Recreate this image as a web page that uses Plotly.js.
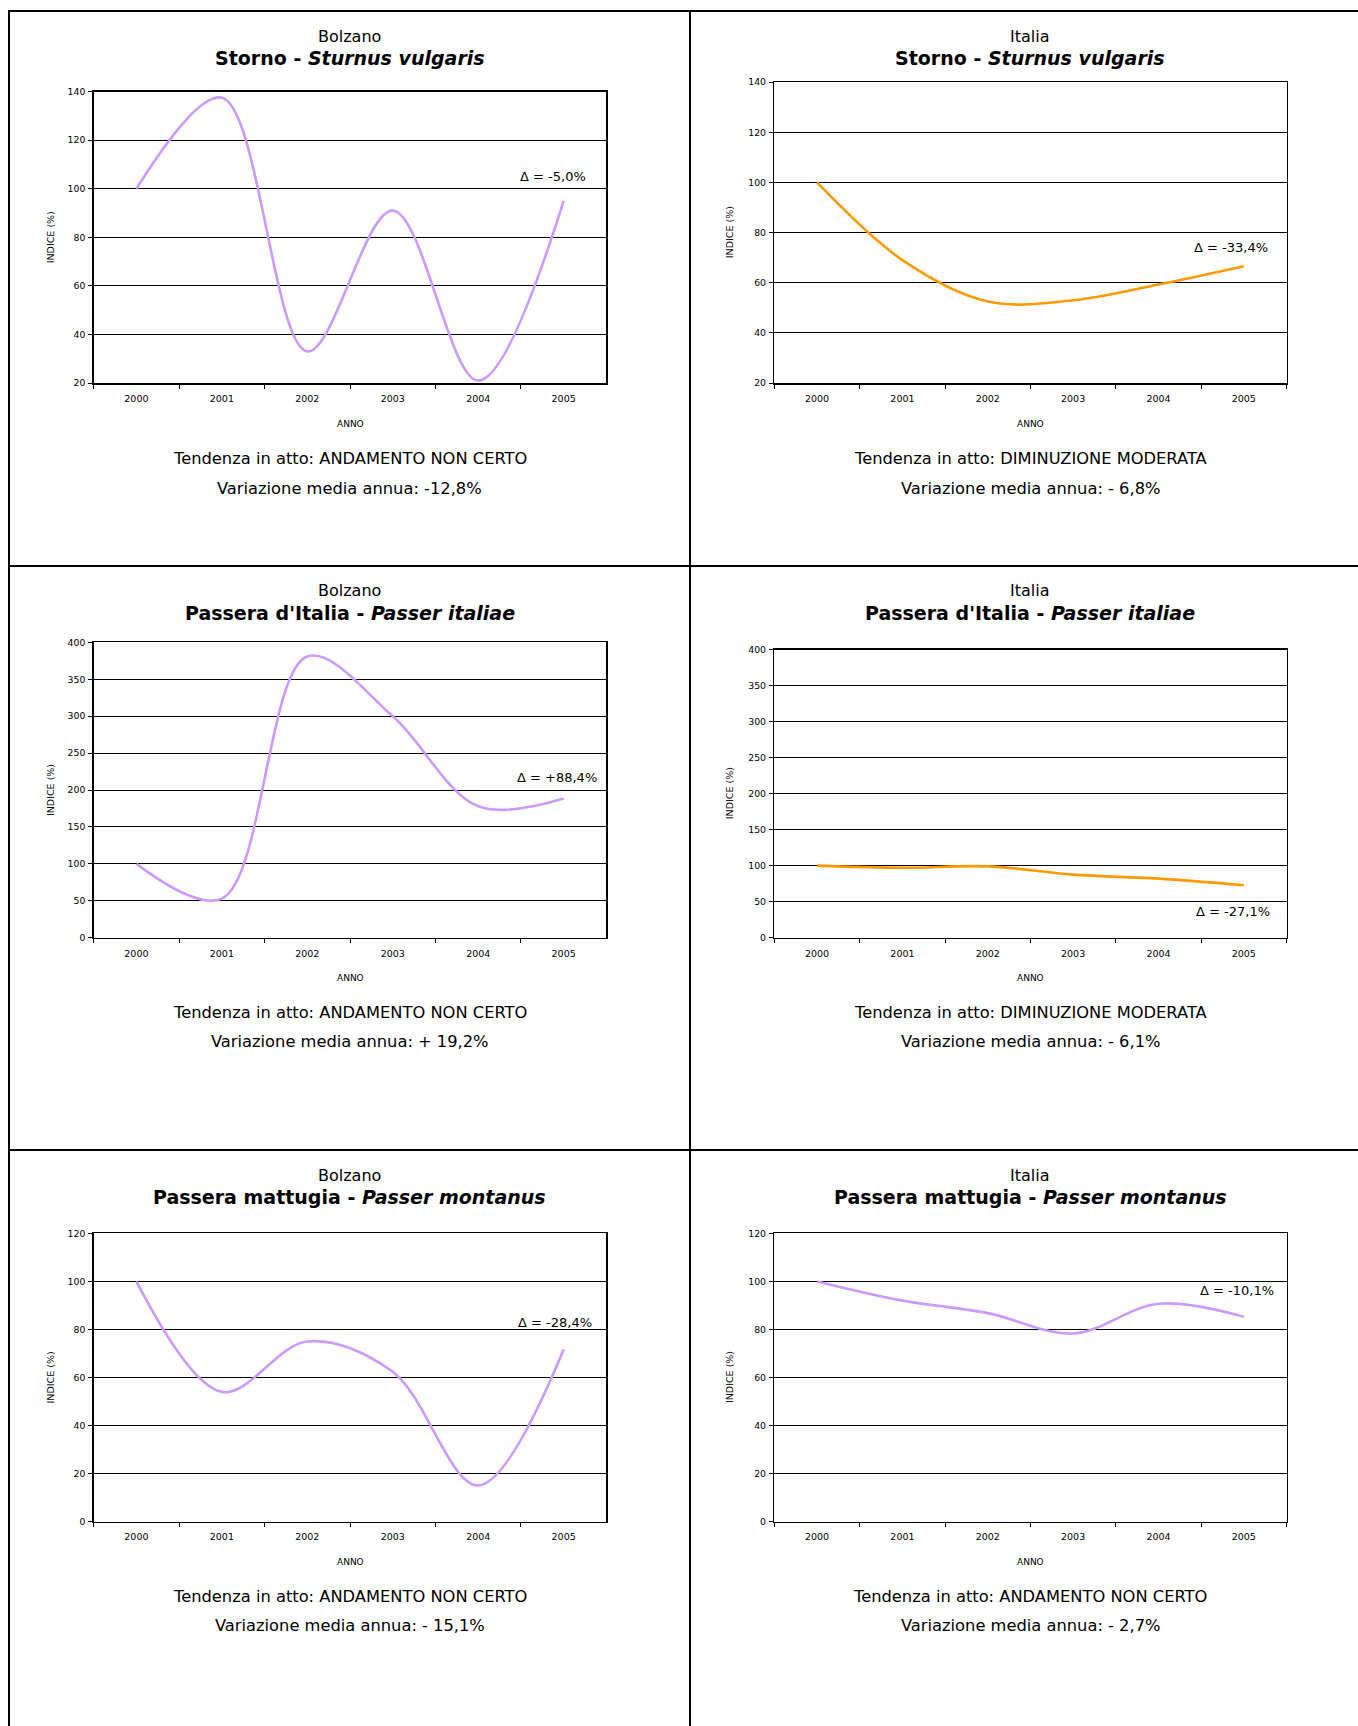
<!DOCTYPE html>
<html>
<head>
<meta charset="utf-8">
<script src="https://cdn.plot.ly/plotly-3.0.1.min.js"></script>
<style>
  html, body { margin: 0; padding: 0; background: #ffffff; overflow: hidden; }
  #chart { width: 1358px; height: 1726px; }
</style>
</head>
<body>
<div id="chart"></div>
<script>
// ---------- DATA ----------
const years = ['2000', '2001', '2002', '2003', '2004', '2005'];

const bolzanoStorno          = [100, 137.5, 33, 91, 21, 95];
const italiaStorno           = [100, 69, 52.5, 53, 59.3, 66.6];
const bolzanoPasseraItalia   = [100, 53, 381, 300, 178, 188.4];
const italiaPasseraItalia    = [100, 97, 99, 87.5, 82, 72.9];
const bolzanoPasseraMattugia = [100, 54, 75, 62.4, 15, 71.6];
const italiaPasseraMattugia  = [100, 92, 86.8, 78.3, 90.7, 85.3];

const places     = ['Bolzano', 'Italia'];
const speciesIt  = ['Storno', "Passera d'Italia", 'Passera mattugia'];
const speciesLat = ['Sturnus vulgaris', 'Passer italiae', 'Passer montanus'];
const deltaLabels = ['Δ = -5,0%', 'Δ = -33,4%', 'Δ = +88,4%', 'Δ = -27,1%', 'Δ = -28,4%', 'Δ = -10,1%'];
const tendenze = ['ANDAMENTO NON CERTO', 'DIMINUZIONE MODERATA', 'ANDAMENTO NON CERTO',
                  'DIMINUZIONE MODERATA', 'ANDAMENTO NON CERTO', 'ANDAMENTO NON CERTO'];
const variazioni = ['-12,8%', '- 6,8%', '+ 19,2%', '- 6,1%', '- 15,1%', '- 2,7%'];
const yRanges = [[20, 140], [20, 140], [0, 400], [0, 400], [0, 120], [0, 120]];
const yDticks = [20, 20, 50, 50, 20, 20];
const xTitle = 'ANNO';
const yTitle = 'INDICE (%)';

const series = [bolzanoStorno, italiaStorno, bolzanoPasseraItalia,
                italiaPasseraItalia, bolzanoPasseraMattugia, italiaPasseraMattugia];

// ---------- STYLE / LAYOUT ----------
const W = 1358, H = 1726;
const FONT = 'DejaVu Sans, Verdana, sans-serif';
const PURPLE = '#CC99FF', ORANGE = '#FF9900';
const lineColors = [PURPLE, ORANGE, PURPLE, ORANGE, PURPLE, PURPLE];

const px = x => x / W;
const py = y => 1 - y / H;

// plot-area boxes in pixels [left, right, top, bottom]
const boxes = [
  [93.7, 606.4, 91.6, 383],
  [774.4, 1286.5, 82.2, 383],
  [93.7, 606.4, 642.4, 937.7],
  [774.4, 1286.5, 649.5, 937.7],
  [93.7, 606.4, 1233.4, 1521.5],
  [774.4, 1286.5, 1233.4, 1521.5]
];
// text rows [subtitle, title, anno, tendenza, variazione]
const rowText = [
  [36.4, 58, 423.6, 458, 488],
  [591, 612.7, 978.4, 1012.6, 1041.6],
  [1175.5, 1197.2, 1562.3, 1596.7, 1625.8]
];
const colCenter = [350, 1030];
const yTitleX = [50, 729.6];
const deltaPos = [[588.4, 176], [1270, 248], [599, 777.5], [1272, 911.4], [594, 1322.4], [1276, 1290.6]];

const traces = [];
const layout = {
  width: W, height: H,
  margin: {l: 0, r: 0, t: 0, b: 0, pad: 0},
  paper_bgcolor: '#ffffff',
  plot_bgcolor: '#ffffff',
  showlegend: false,
  font: {family: FONT, color: '#000000'},
  annotations: [],
  shapes: []
};

for (let i = 0; i < 6; i++) {
  const n = i === 0 ? '' : String(i + 1);
  const row = Math.floor(i / 2), col = i % 2;
  const b = boxes[i];
  traces.push({
    x: years, y: series[i],
    xaxis: 'x' + n, yaxis: 'y' + n,
    type: 'scatter', mode: 'lines',
    line: {color: lineColors[i], width: 2.6, shape: 'spline', smoothing: 1},
    hoverinfo: 'skip'
  });
  layout['xaxis' + n] = {
    domain: [px(b[0]), px(b[1])],
    anchor: 'y' + n,
    type: 'category',
    range: [-0.5, 5.5],
    tickson: 'boundaries',
    ticks: 'outside', ticklen: 4, tickwidth: 1, tickcolor: '#000',
    ticklabelstandoff: 6,
    showgrid: false, zeroline: false,
    showline: true, linecolor: '#000', linewidth: 1.5, mirror: true,
    tickfont: {family: FONT, size: 9.5, color: '#000'},
    fixedrange: true
  };
  layout['yaxis' + n] = {
    domain: [py(b[3]), py(b[2])],
    anchor: 'x' + n,
    range: yRanges[i],
    dtick: yDticks[i], tick0: 0,
    ticks: 'outside', ticklen: 4, tickwidth: 1, tickcolor: '#000',
    ticklabelstandoff: 1,
    showgrid: true, gridcolor: '#000', gridwidth: 1,
    zeroline: false,
    showline: true, linecolor: '#000', linewidth: 1.5, mirror: true,
    tickfont: {family: FONT, size: 9.3, color: '#000'},
    fixedrange: true
  };
  const rt = rowText[row];
  const cx = colCenter[col];
  const A = layout.annotations;
  const ann = (text, x, y, size, extra) => Object.assign({
    text: text, xref: 'paper', yref: 'paper', x: px(x), y: py(y),
    xanchor: 'center', yanchor: 'middle', showarrow: false,
    font: {family: FONT, size: size, color: '#000'}
  }, extra || {});
  A.push(ann(places[col], cx, rt[0], 16));
  A.push(ann('<b>' + speciesIt[row] + ' - <i>' + speciesLat[row] + '</i></b>', cx, rt[1], 19));
  A.push(ann(xTitle, (b[0] + b[1]) / 2, rt[2], 9));
  A.push(ann('Tendenza in atto: ' + tendenze[i], cx, rt[3], 16.3));
  A.push(ann('Variazione media annua: ' + variazioni[i], cx, rt[4], 16.3));
  A.push(ann(yTitle, yTitleX[col], (b[2] + b[3]) / 2, 9.5, {textangle: -90}));
  A.push(ann(deltaLabels[i], deltaPos[i][0], deltaPos[i][1], 13, {xanchor: 'right'}));
}

// table borders
const border = (x0, y0, x1, y1) => ({
  type: 'line', xref: 'paper', yref: 'paper',
  x0: px(x0), y0: py(y0), x1: px(x1), y1: py(y1),
  line: {color: '#000', width: 2}
});
layout.shapes.push(border(9, 11, W, 11));
layout.shapes.push(border(9, 566, W, 566));
layout.shapes.push(border(9, 1150, W, 1150));
layout.shapes.push(border(9, 10, 9, H));
layout.shapes.push(border(690, 10, 690, H));

Plotly.newPlot('chart', traces, layout, {displayModeBar: false, staticPlot: true});
</script>
</body>
</html>
